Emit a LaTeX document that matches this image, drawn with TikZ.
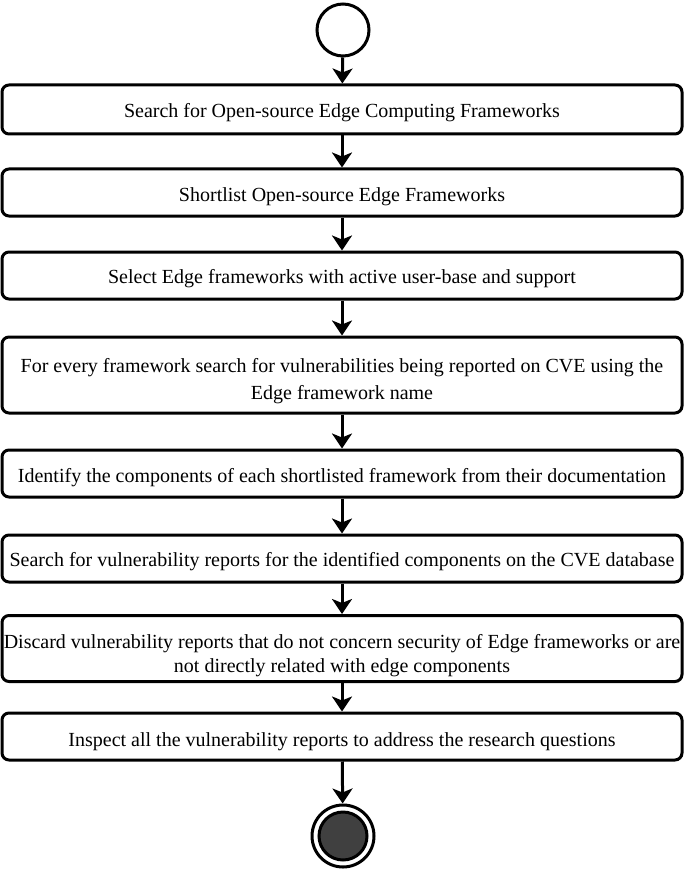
\documentclass[tikz,border=0pt]{standalone}
\usepackage{fontspec}
\setmainfont{Liberation Serif}
\usetikzlibrary{arrows.meta}
\definecolor{endfill}{HTML}{404040}
\begin{document}
\begin{tikzpicture}[x=1pt,y=-1pt,
  stepbox/.style={draw=black,line width=3pt,rounded corners=7pt,minimum width=680pt,inner sep=0pt},
  steptext/.style={inner sep=0pt,align=center,font=\fontsize{20}{27}\selectfont},
  flow/.style={line width=3pt,-{Stealth[length=15pt,width=20pt,inset=4pt]}},
]
\useasboundingbox (0,0) rectangle (685,869);
\node[draw=black,line width=3pt,circle,minimum size=52pt,inner sep=0pt] (start) at (343,30) {};
\node[stepbox,minimum height=49pt] (b1) at (342,109.5) {};
\node[stepbox,minimum height=47pt] (b2) at (342,192.5) {};
\node[stepbox,minimum height=47pt] (b3) at (342,275.5) {};
\node[stepbox,minimum height=76pt] (b4) at (342,375) {};
\node[stepbox,minimum height=47pt] (b5) at (342,473.5) {};
\node[stepbox,minimum height=47pt] (b6) at (342,558.5) {};
\node[stepbox,minimum height=66pt] (b7) at (342,648.5) {};
\node[stepbox,minimum height=47pt] (b8) at (342,736.5) {};
\node[steptext] (t1) at ([yshift=-3pt]b1.center) {Search for Open-source Edge Computing Frameworks};
\node[steptext] (t2) at ([yshift=-4pt]b2.center) {Shortlist Open-source Edge Frameworks};
\node[steptext] (t3) at ([yshift=-3pt]b3.center) {Select Edge frameworks with active user-base and support};
\node[steptext] (t4) at ([yshift=-6pt]b4.center) {For every framework search for vulnerabilities being reported on CVE using the\\Edge framework name};
\node[steptext] (t5) at ([yshift=-4pt]b5.center) {Identify the components of each shortlisted framework from their documentation};
\node[steptext] (t6) at ([yshift=-3pt]b6.center) {Search for vulnerability reports for the identified components on the CVE database};
\node[steptext,font=\fontsize{20}{24}\selectfont] (t7) at ([yshift=-7pt]b7.center) {Discard vulnerability reports that do not concern security of Edge frameworks or are\\not directly related with edge components};
\node[steptext] (t8) at ([yshift=-5pt]b8.center) {Inspect all the vulnerability reports to address the research questions};
\node[draw=black,line width=3pt,circle,minimum size=62pt,inner sep=0pt] (endo) at (343,836) {};
\node[draw=black,fill=endfill,line width=3pt,circle,minimum size=48pt,inner sep=0pt] (endi) at (343,836) {};
\draw[flow] (start) -- (b1);
\draw[flow] (b1) -- (b2);
\draw[flow] (b2) -- (b3);
\draw[flow] (b3) -- (b4);
\draw[flow] (b4) -- (b5);
\draw[flow] (b5) -- (b6);
\draw[flow] (b6) -- (b7);
\draw[flow] (b7) -- (b8);
\draw[flow] (b8) -- (endo);
\end{tikzpicture}
\end{document}
